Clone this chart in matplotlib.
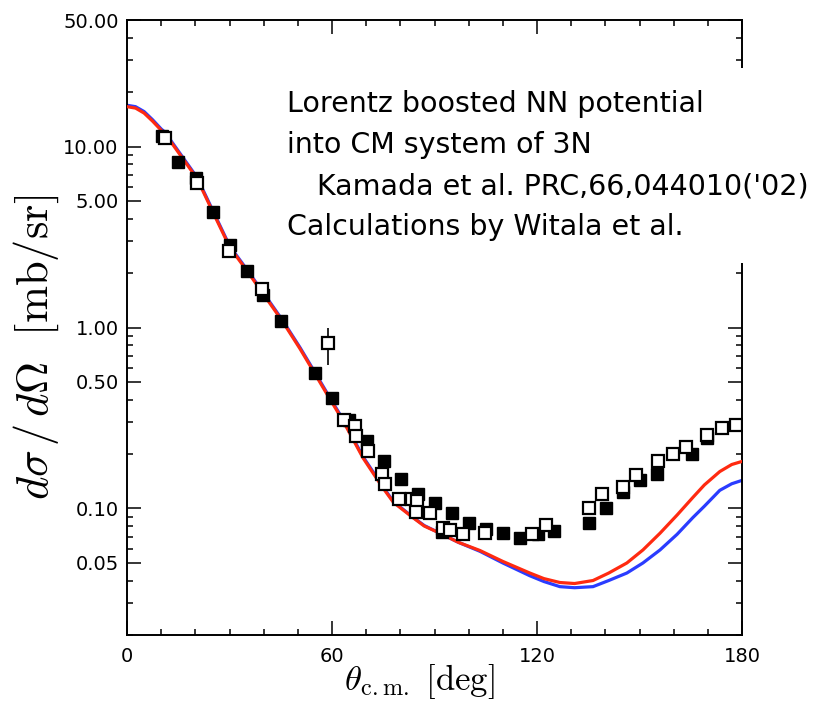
import matplotlib
matplotlib.use("Agg")
import matplotlib.pyplot as plt
from matplotlib.patches import Rectangle
from matplotlib.ticker import FixedLocator, LogLocator, MultipleLocator, NullFormatter
import numpy as np

plt.rcParams['mathtext.fontset'] = 'cm'

# calculations (red / blue curves)
th_red = [0, 2.5, 5, 7.5, 10, 11.1, 15, 20.5, 25.2, 30.1, 35.1, 39.8, 45.4, 50.6, 54.4,
          58.8, 63.2, 69.1, 74.9, 78, 83.7, 87, 91.6, 97, 103.3, 110, 117.9, 122, 126.7,
          131, 136.4, 141, 146.3, 151, 156, 161, 165.6, 169, 173.5, 177, 180]
dsig_red = [16.6, 16.3, 15.3, 13.8, 12.3, 11.8, 9.3, 6.65, 4.32, 2.77, 2.06, 1.54, 1.09, 0.765, 0.58,
            0.42, 0.306, 0.19, 0.13, 0.108, 0.089, 0.08, 0.073, 0.065, 0.0586, 0.051, 0.044, 0.041, 0.039,
            0.0385, 0.040, 0.044, 0.050, 0.059, 0.073, 0.092, 0.115, 0.135, 0.16, 0.175, 0.182]

th_blue = [0, 2.5, 5, 7.5, 10, 11.1, 15, 20.5, 25.2, 30.1, 35.1, 39.8, 45.4, 50.6, 54.4,
           58.8, 63.2, 69.1, 74.9, 78, 83.7, 87, 91.6, 97, 103.3, 110, 117.9, 122, 126.7,
           131, 136.4, 141, 146.3, 151, 156, 161, 165.6, 169, 173.5, 177, 180]
dsig_blue = [16.9, 16.6, 15.6, 14.05, 12.5, 12.0, 9.45, 6.75, 4.39, 2.81, 2.09, 1.565, 1.105, 0.777, 0.59,
             0.427, 0.311, 0.193, 0.132, 0.109, 0.0895, 0.0805, 0.073, 0.065, 0.058, 0.050, 0.0425, 0.0395, 0.037,
             0.0365, 0.037, 0.040, 0.044, 0.050, 0.059, 0.072, 0.089, 0.103, 0.126, 0.137, 0.143]

# data, filled squares
th_fill = [10.2, 14.9, 20.2, 25.2, 30.1, 35.1, 39.8, 45.1, 55.0, 60.0, 65.0, 70.2, 75.2, 80.2,
           85.2, 90.1, 92.2, 95.1, 100.1, 105.1, 110.0, 115.0, 120.3, 125.0, 135.2, 140.2,
           145.2, 150.1, 155.1, 165.3, 169.7]
dsig_fill = [11.5, 8.17, 6.7, 4.32, 2.87, 2.06, 1.52, 1.08, 0.564, 0.41, 0.31, 0.235, 0.182, 0.146,
             0.121, 0.107, 0.074, 0.094, 0.083, 0.077, 0.073, 0.069, 0.072, 0.075, 0.083, 0.101,
             0.124, 0.143, 0.156, 0.199, 0.244]

# data, open squares
th_open = [11.1, 20.5, 29.9, 39.5, 58.8, 63.5, 66.7, 67.0, 70.5, 74.6, 75.5, 79.6, 83.4, 84.9,
           84.6, 88.7, 92.5, 94.5, 98.3, 104.8, 118.5, 122.6, 135.2, 139.0, 145.2, 149.1,
           155.4, 159.8, 163.6, 169.7, 174.1, 178.2]
dsig_open = [11.2, 6.25, 2.66, 1.64, 0.816, 0.31, 0.284, 0.25, 0.209, 0.156, 0.136, 0.113, 0.113, 0.11,
             0.096, 0.094, 0.078, 0.076, 0.072, 0.073, 0.072, 0.081, 0.101, 0.12, 0.132, 0.154,
             0.184, 0.199, 0.22, 0.256, 0.277, 0.291]
err_th = [58.8]
err_val = [0.816]
err_lo = [0.196]
err_hi = [0.184]

fig = plt.figure(figsize=(8.15, 7.03), dpi=100)
ax = fig.add_axes([127/815, 1-635/703, 615/815, 615/703])

ax.plot(th_blue, dsig_blue, color='#2a3cff', lw=2.3, zorder=2)
ax.plot(th_red, dsig_red, color='#ff2a10', lw=2.3, zorder=3)
ax.plot(th_fill, dsig_fill, 's', color='black', ms=8, zorder=4)
ax.errorbar(err_th, err_val, yerr=[err_lo, err_hi], fmt='none', ecolor='black', elinewidth=1.2, zorder=4)
ax.plot(th_open, dsig_open, 's', mfc='white', mec='black', mew=1.6, ms=8.5, zorder=5)

ax.set_yscale('log')
ax.set_xlim(0, 180)
ax.set_ylim(0.02, 50)
ax.xaxis.set_major_locator(FixedLocator([0, 60, 120, 180]))
ax.xaxis.set_minor_locator(MultipleLocator(10))
ax.yaxis.set_major_locator(FixedLocator([0.05, 0.1, 0.5, 1, 5, 10, 50]))
ax.yaxis.set_minor_locator(LogLocator(subs=[2, 3, 4, 6, 7, 8, 9]))
ax.yaxis.set_minor_formatter(NullFormatter())
ax.set_yticklabels(['0.05', '0.10', '0.50', '1.00', '5.00', '10.00', '50.00'])
ax.tick_params(which='both', direction='in', top=True, right=True, width=1.1, labelsize=14)
ax.tick_params(which='major', length=10)
ax.tick_params(which='minor', length=4)
ax.tick_params(axis='x', pad=9)
ax.tick_params(axis='y', pad=6)
for s in ax.spines.values():
    s.set_linewidth(1.4)

ax.set_xlabel(r'$\theta_{\rm c.m.}\ [\rm deg]$', fontsize=25)
ax.xaxis.label.set_va('bottom')
ax.xaxis.set_label_coords(0.475, -0.1075)
ax.set_ylabel(r'$d\sigma\,/\,d\Omega\ \ [\rm mb/sr]$', fontsize=32)
ax.yaxis.label.set_va('center')
ax.yaxis.set_label_coords(-0.148, 0.467)

# white box behind the annotation (hides part of the right axis)
fig.add_artist(Rectangle((280/815, 1-263/703), 535/815, 195/703, transform=fig.transFigure,
                         facecolor='white', edgecolor='none', zorder=5))
lines = [("Lorentz boosted NN potential", 287, 104),
         ("into CM system of 3N", 287, 145),
         ("Kamada et al. PRC,66,044010('02)", 317, 186),
         ("Calculations by Witala et al.", 287, 227)]
for txt, px, py in lines:
    fig.text(px/815, 1-py/703, txt, fontsize=20.5, family='DejaVu Sans', ha='left', va='center', zorder=6)

fig.savefig('out.png', dpi=100)
